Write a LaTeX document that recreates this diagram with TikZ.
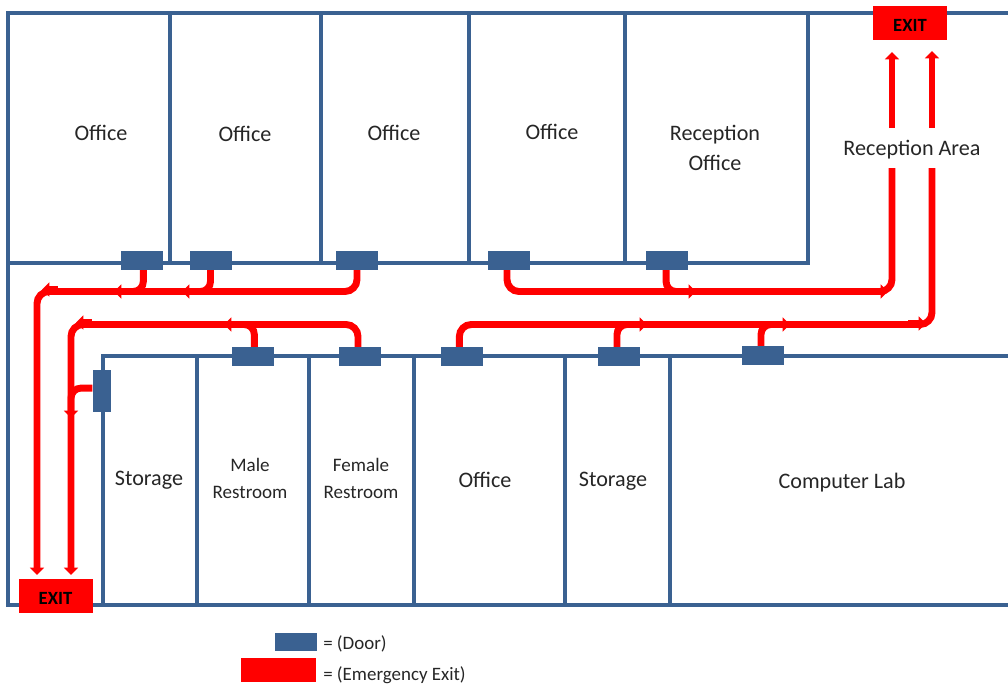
\documentclass[tikz,border=0pt]{standalone}
\usepackage{fontspec}
\setmainfont{Carlito}
\usetikzlibrary{arrows.meta,calc}
\definecolor{wallblue}{HTML}{3A6191}
\newcommand{\exitlabel}{\raisebox{-6.6pt}[0pt][0pt]{EXIT}}
\tikzset{
	wall/.style={draw=wallblue, line width=2.3pt},
	door/.style={fill=wallblue, draw=none, minimum width=31.5pt, minimum height=14.2pt, inner sep=0pt},
	sidedoor/.style={fill=wallblue, draw=none, minimum width=14.2pt, minimum height=31.5pt, inner sep=0pt},
	exitbox/.style={fill=red, draw=none, minimum width=55.5pt, minimum height=25.5pt, inner sep=0pt, font=\fontsize{14}{15}\selectfont\bfseries},
	room/.style={font=\fontsize{16.6}{22.5}\selectfont, text=black!85, align=center, inner sep=0pt},
	smallroom/.style={font=\fontsize{14.3}{20}\selectfont, text=black!85, align=center, inner sep=0pt},
	legendtext/.style={font=\fontsize{14.2}{15}\selectfont, text=black!85, anchor=west, inner sep=0pt},
	route/.style={draw=red, line width=5.2pt, rounded corners=7.5pt},
	routetip/.style={route, -{Triangle[width=10.5pt, length=5.5pt]}}
}
\begin{document}
\begin{tikzpicture}[x=0.75pt, y=-0.75pt]
	\useasboundingbox (0,0) rectangle (1008,690);
	% Outer walls
	\draw [wall, line cap=rect] (1008,13) -- (8,13) -- (8,605) -- (1008,605);
	% Upper row of rooms
	\draw [wall] (8,263) -- (808,263) -- (808,13);
	\draw [wall] (170,13) -- (170,263);
	\draw [wall] (321,13) -- (321,263);
	\draw [wall] (469,13) -- (469,263);
	\draw [wall] (625,13) -- (625,263);
	% Lower row of rooms
	\draw [wall] (1008,356) -- (103,356) -- (103,605);
	\draw [wall] (197,356) -- (197,605);
	\draw [wall] (309,356) -- (309,605);
	\draw [wall] (414,356) -- (414,605);
	\draw [wall] (565,356) -- (565,605);
	\draw [wall] (670,356) -- (670,605);

	% Room labels
	\node [room] (officeA) at (101,133) {Office};
	\node [room] (officeB) at (245,134) {Office};
	\node [room] (officeC) at (394,133) {Office};
	\node [room] (officeD) at (552,132) {Office};
	\node [room] (receptionOffice) at (715,148) {Reception\\Office};
	\node [room] (receptionArea) at (912,150) {Reception Area};
	\node [room] (storageA) at (149,480) {Storage};
	\node [smallroom] (maleRoom) at (250,478.5) {Male\\Restroom};
	\node [smallroom] (femaleRoom) at (361,478.5) {Female\\Restroom};
	\node [room] (officeE) at (485,480) {Office};
	\node [room] (storageB) at (613,481) {Storage};
	\node [room] (computerLab) at (842,483) {Computer Lab};

	% Doors
	\node [door] (doorA) at (142,260.5) {};
	\node [door] (doorB) at (210.5,260.5) {};
	\node [door] (doorC) at (357,260.5) {};
	\node [door] (doorD) at (509,260.5) {};
	\node [door] (doorE) at (667,260.5) {};
	\node [door] (doorF) at (253,356.5) {};
	\node [door] (doorG) at (360,356.5) {};
	\node [door] (doorH) at (462,356.5) {};
	\node [door] (doorI) at (619,356.5) {};
	\node [door] (doorJ) at (763,355.5) {};
	\node [sidedoor] (doorK) at (102,390.5) {};

	% Exits
	\node [exitbox] (exitTop) at (910,22.5) {\exitlabel};
	\node [exitbox] (exitLeft) at (55.5,595.5) {\exitlabel};

	% Route corners and arrow ends
	\coordinate (cornerA) at (37,291.5);
	\coordinate (cornerB) at (71,324.5);
	\coordinate (cornerC) at (892,291.5);
	\coordinate (cornerD) at (932,324.5);
	\coordinate (endA) at (37,575);
	\coordinate (endB) at (71,575);
	\coordinate (gapA) at (892,168);
	\coordinate (gapB) at (932,168);
	\coordinate (restartA) at (892,128);
	\coordinate (restartB) at (932,128);
	\coordinate (topA) at (892,52);
	\coordinate (topB) at (932,51);
	\coordinate (tipA) at (114,291.5);
	\coordinate (tipB) at (182,291.5);
	\coordinate (tipF) at (224,324.5);
	\coordinate (tipK) at (71,418);
	\coordinate (tipE) at (696,291.5);
	\coordinate (tipI) at (647,324.5);
	\coordinate (tipJ) at (790,324.5);

	% Main routes
	\draw [routetip, rounded corners=9pt] (doorC.south) |- (cornerA) -- (endA);
	\draw [routetip, rounded corners=9pt] ([xshift=-1.5pt]doorG.north) |- (cornerB) -- (endB);
	\draw [route, rounded corners=9pt] ([xshift=-1.5pt]doorD.south) |- (cornerC) -- (gapA);
	\draw [route, rounded corners=9pt] ([xshift=-2pt]doorH.north) |- (cornerD) -- (gapB);
	\draw [routetip] (restartA) -- (topA);
	\draw [routetip] (restartB) -- (topB);

	% Side branches
	\draw [routetip] ([xshift=1pt]doorA.south) |- (tipA);
	\draw [routetip] (doorB.south) |- (tipB);
	\draw [routetip] ([xshift=1pt]doorF.north) |- (tipF);
	\draw [routetip] ([yshift=1.8pt]doorK.west) -| (tipK);
	\draw [routetip] ([xshift=-0.7pt]doorE.south) |- (tipE);
	\draw [routetip] ([xshift=-1.5pt]doorI.north) |- (tipI);
	\draw [routetip] ([xshift=-1.5pt]doorJ.north) |- (tipJ);

	% Small heads near the corners
	\draw [routetip] ($(cornerA)+(21,-2)$) -- ($(cornerA)+(5,-2)$);
	\draw [routetip] ($(cornerB)+(21,-2)$) -- ($(cornerB)+(5,-2)$);
	\draw [routetip] ($(cornerC)+(-20,0)$) -- ($(cornerC)+(-4,0)$);
	\draw [routetip] ($(cornerD)+(-24,-1)$) -- ($(cornerD)+(-6,-1)$);

	% Legend
	\node [door] (legendDoor) at (296,642) {};
	\node [fill=red, minimum width=56pt, minimum height=17.5pt, inner sep=0pt] (legendExit) at (278.5,670) {};
	\node [legendtext] (legendDoorText) at (323,644) {= (Door)};
	\node [legendtext] (legendExitText) at (323,675) {= (Emergency Exit)};
\end{tikzpicture}
\end{document}
